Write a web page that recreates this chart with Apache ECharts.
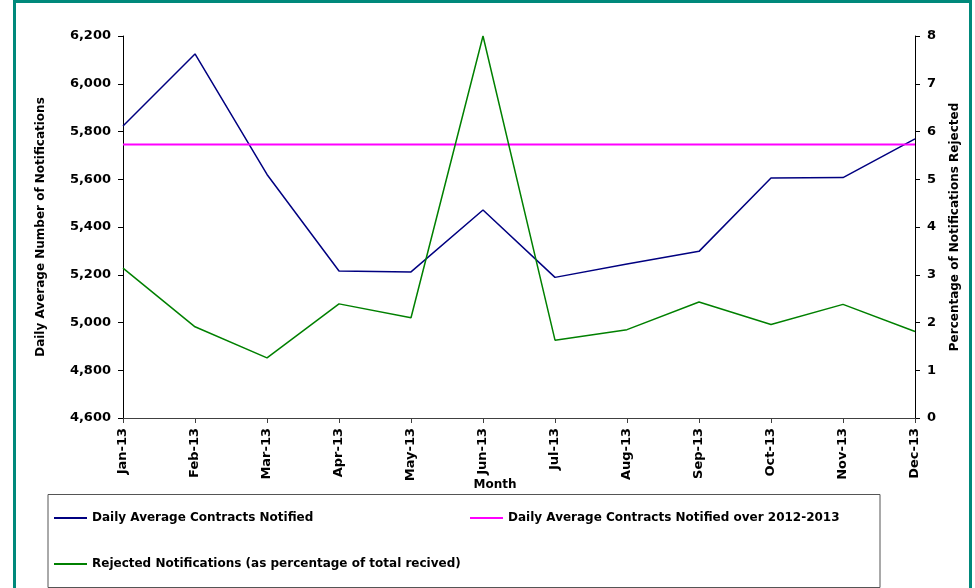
<!DOCTYPE html>
<html>
<head>
<meta charset="utf-8">
<script src="https://cdn.jsdelivr.net/npm/echarts@6/dist/echarts.min.js"></script>
<style>
  html, body { margin: 0; padding: 0; background: #fff; }
  #chart { width: 975px; height: 588px; }
</style>
</head>
<body>
<div id="chart"></div>
<script>
// data
const months = ["Jan-13", "Feb-13", "Mar-13", "Apr-13", "May-13", "Jun-13",
                "Jul-13", "Aug-13", "Sep-13", "Oct-13", "Nov-13", "Dec-13"];
const dailyAvg = [5823, 6125, 5620, 5216, 5212, 5471, 5189, 5245, 5298, 5605, 5607, 5769];
const avgOverPeriod = [5746, 5746, 5746, 5746, 5746, 5746, 5746, 5746, 5746, 5746, 5746, 5746];
const rejectedPct = [3.14, 1.91, 1.26, 2.39, 2.10, 8.0, 1.63, 1.85, 2.43, 1.96, 2.38, 1.81];

const FONT = "DejaVu Sans";
const txt = { fontFamily: FONT, fontWeight: "bold", fontSize: 13, color: "#000" };
const nameTxt = { fontFamily: FONT, fontWeight: "bold", fontSize: 12, color: "#000" };

const chart = echarts.init(document.getElementById("chart"));

const legendText = { fontFamily: FONT, fontWeight: "bold", fontSize: 12, color: "#000" };
const legendBase = {
    orient: "horizontal",
    itemWidth: 33,
    itemHeight: 2,
    itemGap: 4,
    icon: "rect",
    textStyle: legendText,
    padding: 0
};

chart.setOption({
    animation: false,
    backgroundColor: "#fff",
    graphic: [
        {
            type: "rect",
            shape: { x: 14.5, y: 1.5, width: 956, height: 600 },
            style: { fill: "none", stroke: "#00897B", lineWidth: 3 },
            silent: true
        },
        {
            type: "rect",
            shape: { x: 48, y: 494.5, width: 832, height: 93 },
            style: { fill: "#fff", stroke: "#555", lineWidth: 1 },
            silent: true,
            z: 1
        }
    ],
    legend: [
        Object.assign({}, legendBase, { left: 54, top: 512, data: ["Daily Average Contracts Notified"] }),
        Object.assign({}, legendBase, { left: 470, top: 512, data: ["Daily Average Contracts Notified over 2012-2013"] }),
        Object.assign({}, legendBase, { left: 54, top: 558, data: ["Rejected Notifications (as percentage of total recived)"] })
    ],
    grid: { left: 123, right: 60, top: 36, bottom: 170 },
    xAxis: {
        type: "category",
        data: months,
        boundaryGap: false,
        name: "Month",
        nameLocation: "middle",
        nameGap: 61,
        nameMoveOverlap: false,
        nameTextStyle: Object.assign({}, nameTxt, { padding: [0, 48, 0, 0] }),
        axisLine: { lineStyle: { color: "#404040", width: 1 } },
        axisTick: { show: true, length: 5, lineStyle: { color: "#404040" } },
        axisLabel: Object.assign({}, txt, { rotate: 90, margin: 10 }),
        splitLine: { show: false }
    },
    yAxis: [
        {
            type: "value",
            min: 4600,
            max: 6200,
            interval: 200,
            name: "Daily Average Number of Notifications",
            nameLocation: "middle",
            nameGap: 76,
            nameMoveOverlap: false,
            nameTextStyle: nameTxt,
            axisLine: { show: true, lineStyle: { color: "#000" } },
            axisTick: { show: true, length: 5, lineStyle: { color: "#000" } },
            axisLabel: Object.assign({}, txt, {
                margin: 12,
                formatter: v => v.toLocaleString("en-US")
            }),
            splitLine: { show: false }
        },
        {
            type: "value",
            min: 0,
            max: 8,
            interval: 1,
            name: "Percentage of Notifications Rejected",
            nameLocation: "middle",
            nameGap: 34,
            nameRotate: 90,
            nameMoveOverlap: false,
            nameTextStyle: nameTxt,
            axisLine: { show: true, lineStyle: { color: "#000" } },
            axisTick: { show: true, length: 5, lineStyle: { color: "#000" } },
            axisLabel: Object.assign({}, txt, { margin: 12 }),
            splitLine: { show: false }
        }
    ],
    series: [
        {
            name: "Daily Average Contracts Notified",
            type: "line",
            data: dailyAvg,
            yAxisIndex: 0,
            showSymbol: false,
            lineStyle: { color: "#000080", width: 1.5 },
            itemStyle: { color: "#000080" }
        },
        {
            name: "Daily Average Contracts Notified over 2012-2013",
            type: "line",
            data: avgOverPeriod,
            yAxisIndex: 0,
            showSymbol: false,
            lineStyle: { color: "#FF00FF", width: 2 },
            itemStyle: { color: "#FF00FF" }
        },
        {
            name: "Rejected Notifications (as percentage of total recived)",
            type: "line",
            data: rejectedPct,
            yAxisIndex: 1,
            showSymbol: false,
            lineStyle: { color: "#008000", width: 1.5 },
            itemStyle: { color: "#008000" }
        }
    ]
});
</script>
</body>
</html>
